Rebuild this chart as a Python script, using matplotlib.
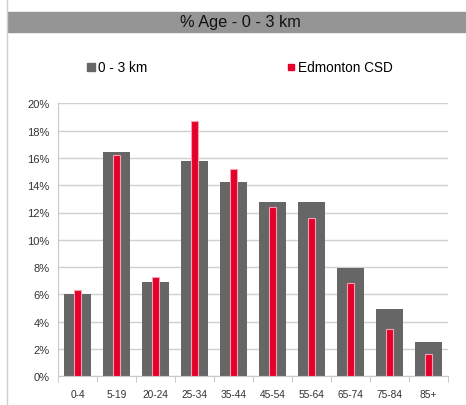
import matplotlib.pyplot as plt
import numpy as np
from matplotlib.patches import Rectangle
from matplotlib.lines import Line2D

plt.rcParams['font.family'] = ['Liberation Sans', 'DejaVu Sans']

categories = ['0-4', '5-19', '20-24', '25-34', '35-44', '45-54', '55-64', '65-74', '75-84', '85+']
area_pct = [6.0, 16.4, 6.9, 15.8, 14.2, 12.8, 12.8, 7.9, 4.9, 2.5]
csd_pct = [6.3, 16.2, 7.3, 18.7, 15.2, 12.4, 11.6, 6.8, 3.5, 1.6]

gray = '#666666'
red = '#e4002b'

fig = plt.figure(figsize=(4.66, 4.06), dpi=100)

# title band and left frame line
fig.patches.append(Rectangle((8 / 466, 1 - 33 / 406), 458 / 466, 20 / 406,
                             transform=fig.transFigure, color='#959595', zorder=0))
fig.text(240 / 466, 1 - 23 / 406, '% Age - 0 - 3 km', ha='center', va='center',
         fontsize=11.8, color='#111111')
fig.lines.append(Line2D([7 / 466, 7 / 466], [0, 1], transform=fig.transFigure,
                        color='#d0d0d0', lw=1))

ax = fig.add_axes([58 / 466, 1 - 377.3 / 406, 390 / 466, 273 / 406])
x = np.arange(len(categories))
ax.bar(x, area_pct, width=0.68, color=gray, zorder=2, label='0 - 3 km')
ax.bar(x, csd_pct, width=0.2, color=red, edgecolor='#f4a0b0', linewidth=0.8,
       zorder=3, label='Edmonton CSD')

ax.set_xlim(-0.5, len(categories) - 0.5)
ax.set_ylim(0, 20)
ax.set_yticks(np.arange(0, 21, 2))
ax.set_yticklabels([f'{v}%' for v in range(0, 21, 2)])
ax.yaxis.grid(True, color='#d0d0d0', lw=1, zorder=0)
ax.set_axisbelow(True)

ax.set_xticks(x)
ax.set_xticklabels(categories)
ax.set_xticks(np.arange(-0.5, len(categories)), minor=True)
ax.tick_params(axis='x', which='major', length=0, labelsize=7.3, colors='#333333', pad=9)
ax.tick_params(axis='x', which='minor', length=4, color='#c0c0c0')
ax.tick_params(axis='y', length=0, labelsize=8, colors='#333333', pad=6)

for s in ['top', 'right']:
    ax.spines[s].set_visible(False)
ax.spines['left'].set_color('#c8c8c8')
ax.spines['bottom'].set_color('#c8c8c8')

# legend
fig.patches.append(Rectangle((87 / 466, 1 - 72 / 406), 8 / 466, 8 / 406,
                             transform=fig.transFigure, color=gray))
fig.text(98 / 466, 1 - 67.5 / 406, '0 - 3 km', va='center', fontsize=9.8)
fig.patches.append(Rectangle((288 / 466, 1 - 71 / 406), 6 / 466, 6 / 406,
                             transform=fig.transFigure, color=red))
fig.text(298 / 466, 1 - 67.5 / 406, 'Edmonton CSD', va='center', fontsize=9.8)

fig.savefig('out.png', dpi=100)
